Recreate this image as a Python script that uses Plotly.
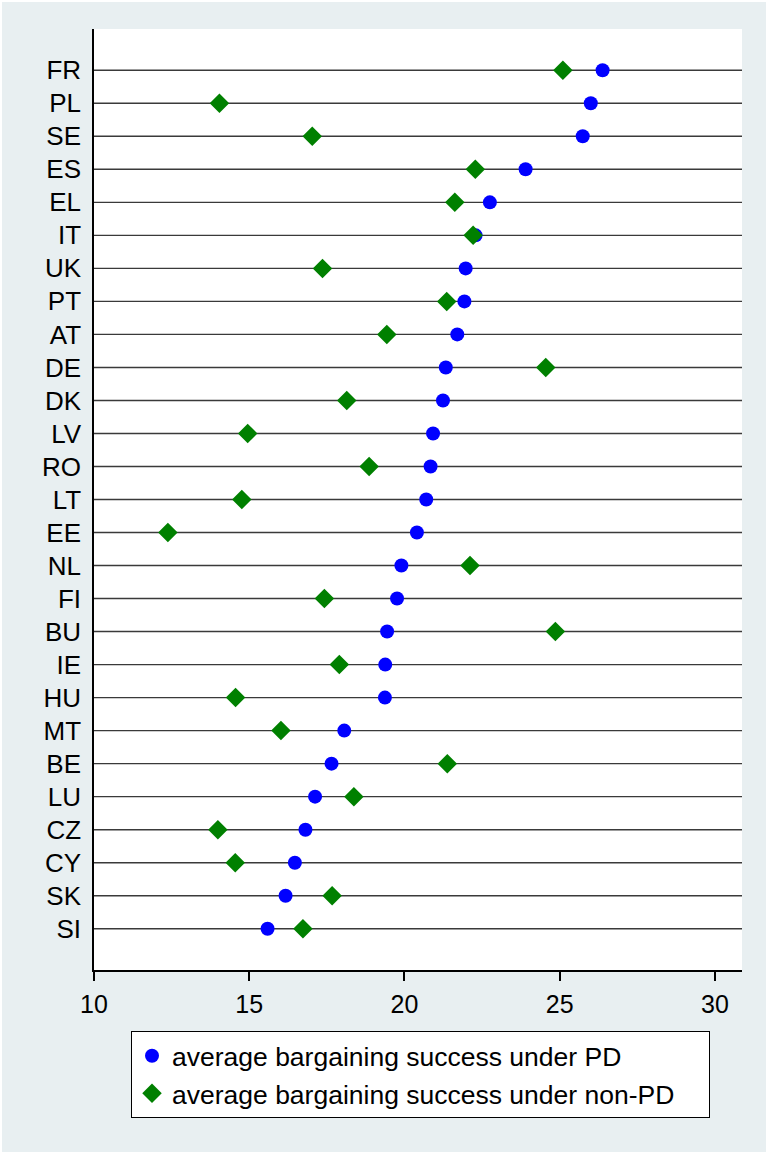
import plotly.graph_objects as go

# Countries, top to bottom
countries = ["FR", "PL", "SE", "ES", "EL", "IT", "UK", "PT", "AT", "DE", "DK", "LV", "RO",
             "LT", "EE", "NL", "FI", "BU", "IE", "HU", "MT", "BE", "LU", "CZ", "CY", "SK", "SI"]

# Average bargaining success under PD
success_pd = [26.38, 26.00, 25.74, 23.90, 22.75, 22.29, 21.97, 21.93, 21.70, 21.33, 21.24, 20.92,
              20.84, 20.70, 20.40, 19.90, 19.76, 19.44, 19.38, 19.37, 18.06, 17.65, 17.12, 16.81,
              16.47, 16.17, 15.59]

# Average bargaining success under non-PD
success_non_pd = [25.10, 14.04, 17.03, 22.28, 21.62, 22.21, 17.36, 21.36, 19.43, 24.55, 18.14, 14.95,
                  18.86, 14.76, 12.38, 22.11, 17.42, 24.86, 17.90, 14.56, 16.02, 21.38, 18.37, 13.99,
                  14.55, 17.67, 16.73]

x_ticks = [10, 15, 20, 25, 30]

W, H = 768, 1154
ML, MR, MT, MB = 94, 26, 29, 184
PW, PH = W - ML - MR, H - MT - MB

positions = list(range(len(countries)))
FONT = "Liberation Sans, Arial, sans-serif"
PAD = "\u00a0" * 4  # extra room on the right of the legend box

fig = go.Figure()

# Light graph region with a thin white frame around the figure
fig.add_shape(type="rect", xref="paper", yref="paper",
              x0=(2 - ML) / PW, x1=(W - 2 - ML) / PW,
              y0=-(H - 2 - MT - PH) / PH, y1=1 + (MT - 2) / PH,
              fillcolor="#E8EFF1", line=dict(width=0), layer="below")
# White plot region
fig.add_shape(type="rect", xref="paper", yref="paper", x0=0, x1=1, y0=0, y1=1,
              fillcolor="white", line=dict(width=0), layer="below")

# Horizontal reference lines, one per country
for p in positions:
    fig.add_shape(type="line", xref="paper", x0=0, x1=1, yref="y", y0=p, y1=p,
                  line=dict(color="#3a3a3a", width=1.4), layer="below")

fig.add_trace(go.Scatter(
    x=success_pd, y=positions, mode="markers",
    name="average bargaining success under PD",
    legendgroup="pd",
    marker=dict(symbol="circle", size=14, color="#0000FF", line=dict(width=0)),
))
fig.add_trace(go.Scatter(
    x=success_non_pd, y=positions, mode="markers",
    name="average bargaining success under non-PD" + PAD,
    legendgroup="nonpd",
    marker=dict(symbol="diamond", size=15, color="#008000", line=dict(width=0)),
))

fig.update_layout(
    width=W, height=H,
    margin=dict(l=ML, r=MR, t=MT, b=MB, pad=0),
    paper_bgcolor="white",
    plot_bgcolor="rgba(0,0,0,0)",
    font=dict(family=FONT, color="black"),
    showlegend=True,
    legend=dict(
        x=(131 - ML) / PW, y=-(1031 - MT - PH) / PH, xanchor="left", yanchor="top",
        bgcolor="white", bordercolor="black", borderwidth=1,
        font=dict(family=FONT, size=26.5, color="black"),
        itemsizing="trace", traceorder="grouped", tracegroupgap=0,
    ),
    xaxis=dict(
        range=[10, 30.87], tickvals=x_ticks, ticktext=[str(t) for t in x_ticks],
        showgrid=False, zeroline=False,
        showline=True, linecolor="black", linewidth=1.5,
        ticks="outside", ticklen=9, tickwidth=1.5, tickcolor="black",
        ticklabelstandoff=2,
        tickfont=dict(family=FONT, size=25, color="black"),
        fixedrange=True,
    ),
    yaxis=dict(
        range=[len(countries) - 1 + 1.25, -1.25],
        tickvals=positions, ticktext=countries,
        showgrid=False, zeroline=False,
        showline=True, linecolor="black", linewidth=1.5,
        ticks="", ticklabelstandoff=6,
        tickfont=dict(family=FONT, size=26, color="black"),
        fixedrange=True,
    ),
)

fig.write_html("out.html")
